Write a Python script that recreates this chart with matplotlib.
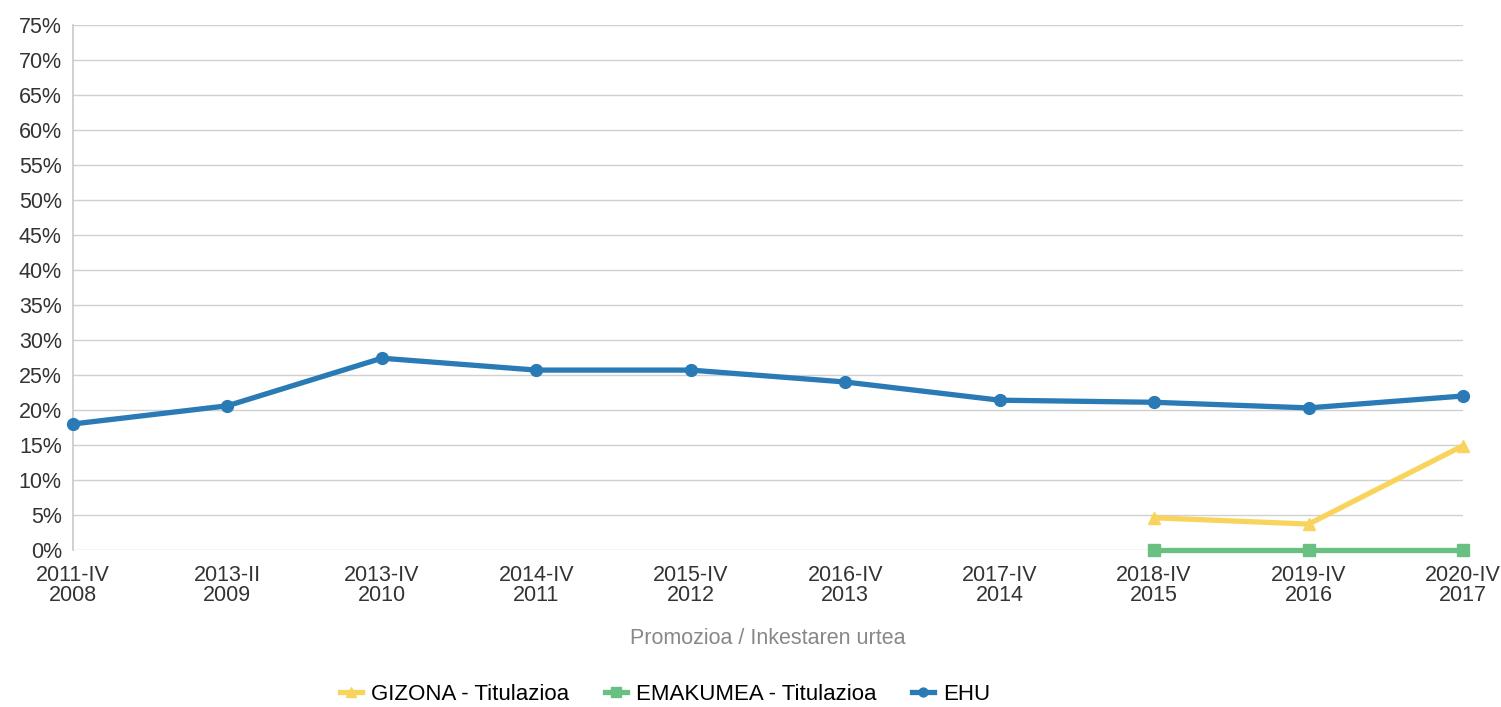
import numpy as np
import matplotlib
matplotlib.use('Agg')
import matplotlib.pyplot as plt
from matplotlib.ticker import FuncFormatter

plt.rcParams['font.family'] = ['Liberation Sans', 'DejaVu Sans']

# datuak
promozioak = ['2011-IV', '2013-II', '2013-IV', '2014-IV', '2015-IV',
              '2016-IV', '2017-IV', '2018-IV', '2019-IV', '2020-IV']
urteak = ['2008', '2009', '2010', '2011', '2012',
          '2013', '2014', '2015', '2016', '2017']
gizona = [None, None, None, None, None, None, None, 4.6, 3.7, 14.9]
emakumea = [None, None, None, None, None, None, None, 0.0, 0.0, 0.0]
ehu = [18.0, 20.6, 27.4, 25.7, 25.7, 24.0, 21.4, 21.1, 20.3, 22.0]

x = np.arange(len(promozioak))
gizona = np.array([np.nan if v is None else v for v in gizona], dtype=float)
emakumea = np.array([np.nan if v is None else v for v in emakumea], dtype=float)

fig = plt.figure(figsize=(15.01, 7.07), dpi=100)
ax = fig.add_axes([0.0486, 0.2221, 0.9261, 0.7425])

ax.plot(x, gizona, color='#f9d45c', lw=3.8, marker='^', ms=9,
        label='GIZONA - Titulazioa', clip_on=False, zorder=3)
ax.plot(x, emakumea, color='#68c182', lw=3.8, marker='s', ms=9,
        label='EMAKUMEA - Titulazioa', clip_on=False, zorder=3)
ax.plot(x, ehu, color='#2a7ab5', lw=3.8, marker='o', ms=8.5,
        label='EHU', clip_on=False, zorder=4)

ax.set_xlim(0, 9)
ax.set_ylim(0, 75)
ax.set_yticks(np.arange(0, 76, 5))
ax.yaxis.set_major_formatter(FuncFormatter(lambda v, p: f'{int(v)}%'))
ax.set_xticks(x)
ax.set_xticklabels([f'{p}\n{u}' for p, u in zip(promozioak, urteak)],
                   linespacing=0.9)
ax.tick_params(axis='both', length=0, labelsize=15.5, colors='#333333')
ax.tick_params(axis='y', pad=8)
ax.tick_params(axis='x', pad=11)

ax.grid(axis='y', color='#d0d0d0', lw=1)
for s in ['top', 'right', 'bottom']:
    ax.spines[s].set_visible(False)
ax.spines['left'].set_color('#c8c8c8')
ax.spines['left'].set_linewidth(1.2)
ax.set_axisbelow(True)

ax.set_xlabel('Promozioa / Inkestaren urtea', fontsize=15.5, color='#888888',
              labelpad=16)

fig.legend(loc='center', bbox_to_anchor=(0.443, 0.018), ncol=3, frameon=False,
           fontsize=16, handlelength=1.0, handletextpad=0.4,
           columnspacing=1.6, markerscale=0.75)

fig.savefig('out.png', dpi=100)
